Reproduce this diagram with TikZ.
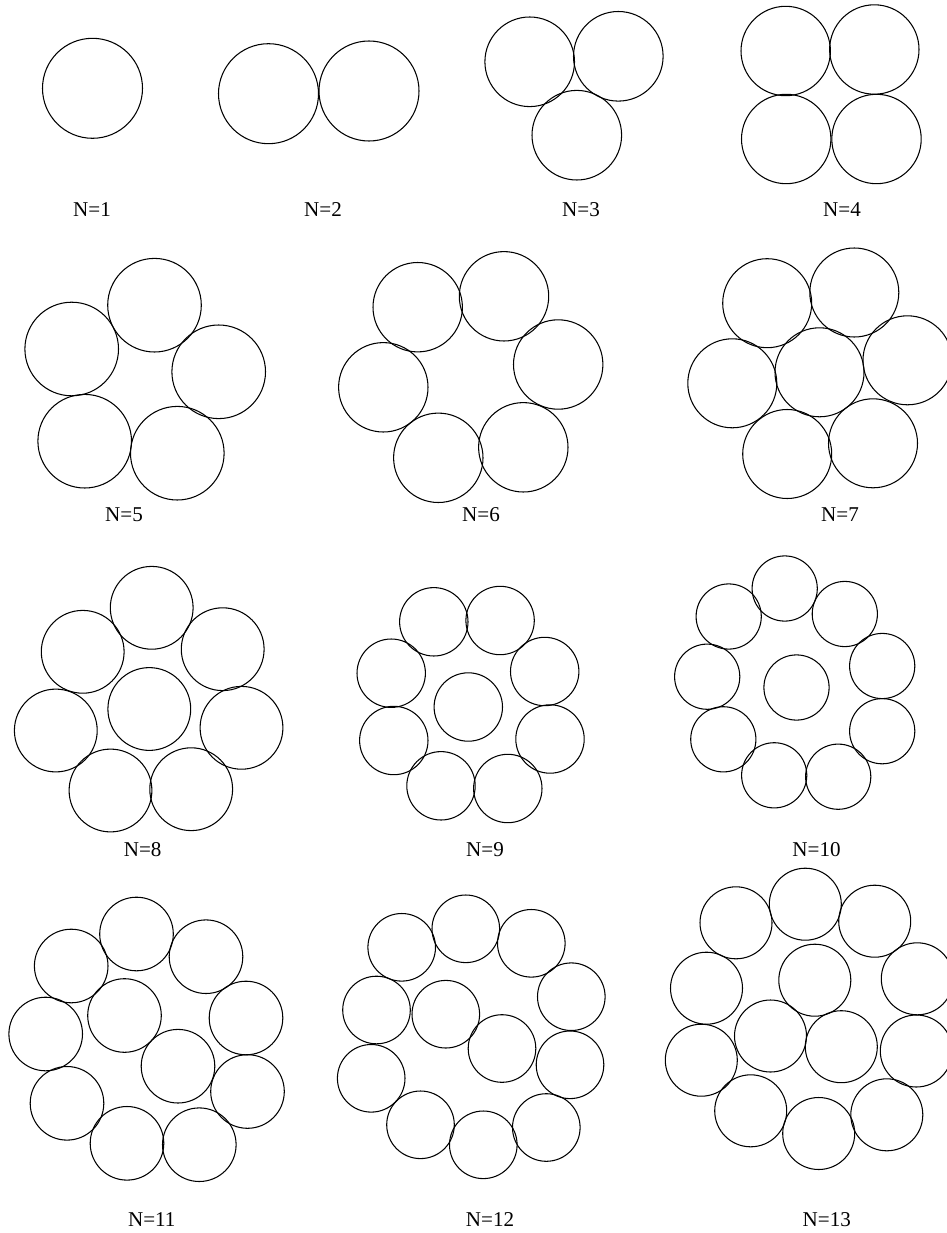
\documentclass[tikz,border=0pt]{standalone}
\usepackage{fontspec}
\setmainfont{Liberation Serif}
\usetikzlibrary{positioning}

\begin{document}
\begin{tikzpicture}[x=0.02cm, y=-0.02cm,
  disc/.style={draw=black, line width=0.6pt},
  caption/.style={anchor=base, inner sep=0pt, font=\fontsize{12}{14}\selectfont}
]
\useasboundingbox (0,0) rectangle (946,1233);
% row 1
\draw[disc] (92.5,88.3) circle[radius=50];
\foreach \cx/\cy in {268.5/93.7, 369/91}
  \draw[disc] (\cx,\cy) circle[radius=50];
\foreach \cx/\cy in {529.7/61.8, 618.3/56.3, 576.8/135.2}
  \draw[disc] (\cx,\cy) circle[radius=44.8];
\foreach \cx/\cy in {785.7/51, 874.3/49.5, 786.2/139, 876.5/139}
  \draw[disc] (\cx,\cy) circle[radius=44.7];
\node[caption] (capA) at (92,216.5) {N=1};
\node[caption] (capB) at (323,216.5) {N=2};
\node[caption] (capC) at (581,216.5) {N=3};
\node[caption] (capD) at (842,216.5) {N=4};
% row 2
\foreach \cx/\cy in {154.5/305.2, 71.7/349, 218.7/371.8, 84.7/441.2, 177.3/453.2}
  \draw[disc] (\cx,\cy) circle[radius=46.8];
\foreach \cx/\cy in {417.7/307.2, 504/296.3, 383.3/387.3, 558.2/364.5, 438.3/457.8, 523.3/447.3}
  \draw[disc] (\cx,\cy) circle[radius=44.7];
\foreach \cx/\cy in {767.2/303.2, 854.3/292.5, 732.3/383.3, 819.5/372.3,
                     907.5/360.3, 787.2/454, 873/443.3}
  \draw[disc] (\cx,\cy) circle[radius=44.5];
\node[caption] (capE) at (124,521.5) {N=5};
\node[caption] (capF) at (481,521.5) {N=6};
\node[caption] (capG) at (840,521.5) {N=7};
% row 3
\foreach \cx/\cy in {151.7/607.8, 82.7/651.8, 222.7/649.2, 149.3/709,
                     55.8/730.5, 241.5/727.8, 110.5/790.5, 191.2/789.2}
  \draw[disc] (\cx,\cy) circle[radius=41.4];
\foreach \cx/\cy in {433.8/621.8, 500.1/620.5, 391.2/673.2, 544.7/671.5, 468.3/707,
                     393.8/740.5, 550/739, 441/785.8, 507.8/788.5}
  \draw[disc] (\cx,\cy) circle[radius=34.2];
\foreach \cx/\cy in {784.7/588.5, 728.7/616.5, 844.8/614, 707.2/676.7, 882.2/666,
                     796.5/687.5, 723.3/739.3, 882.2/731.2, 774.2/775.3, 838.2/776.7}
  \draw[disc] (\cx,\cy) circle[radius=32.6];
\node[caption] (capH) at (142.7,856) {N=8};
\node[caption] (capI) at (485,856) {N=9};
\node[caption] (capJ) at (816.5,856) {N=10};
% row 4
\foreach \cx/\cy in {136.5/934, 71.2/966, 206/956.7, 124.5/1015.5, 45.7/1034, 246/1018,
                     178/1066.2, 67/1103.3, 247.5/1091.5, 127/1143.3, 199.3/1144.7}
  \draw[disc] (\cx,\cy) circle[radius=36.8];
\foreach \cx/\cy in {401.7/947.3, 465.8/928.8, 531.3/943.3, 376.5/1010, 445.8/1014.2,
                     571.3/996.7, 502/1048.5, 371.2/1078.3, 570/1064.8, 420.5/1124.8,
                     483.3/1144.8, 546.3/1127.5}
  \draw[disc] (\cx,\cy) circle[radius=33.8];
\foreach \cx/\cy in {805.3/904.2, 736/922.8, 874.7/921.2, 814.8/980.2, 706.5/988.2,
                     917.3/978.8, 770.5/1036, 841.3/1046.7, 701.3/1060.2, 916.3/1051,
                     750.7/1110.8, 818.7/1133.5, 886.8/1114.8}
  \draw[disc] (\cx,\cy) circle[radius=36];
\node[caption] (capK) at (151.8,1226.5) {N=11};
\node[caption] (capL) at (490,1226.5) {N=12};
\node[caption] (capM) at (826.8,1226.5) {N=13};
\end{tikzpicture}
\end{document}
